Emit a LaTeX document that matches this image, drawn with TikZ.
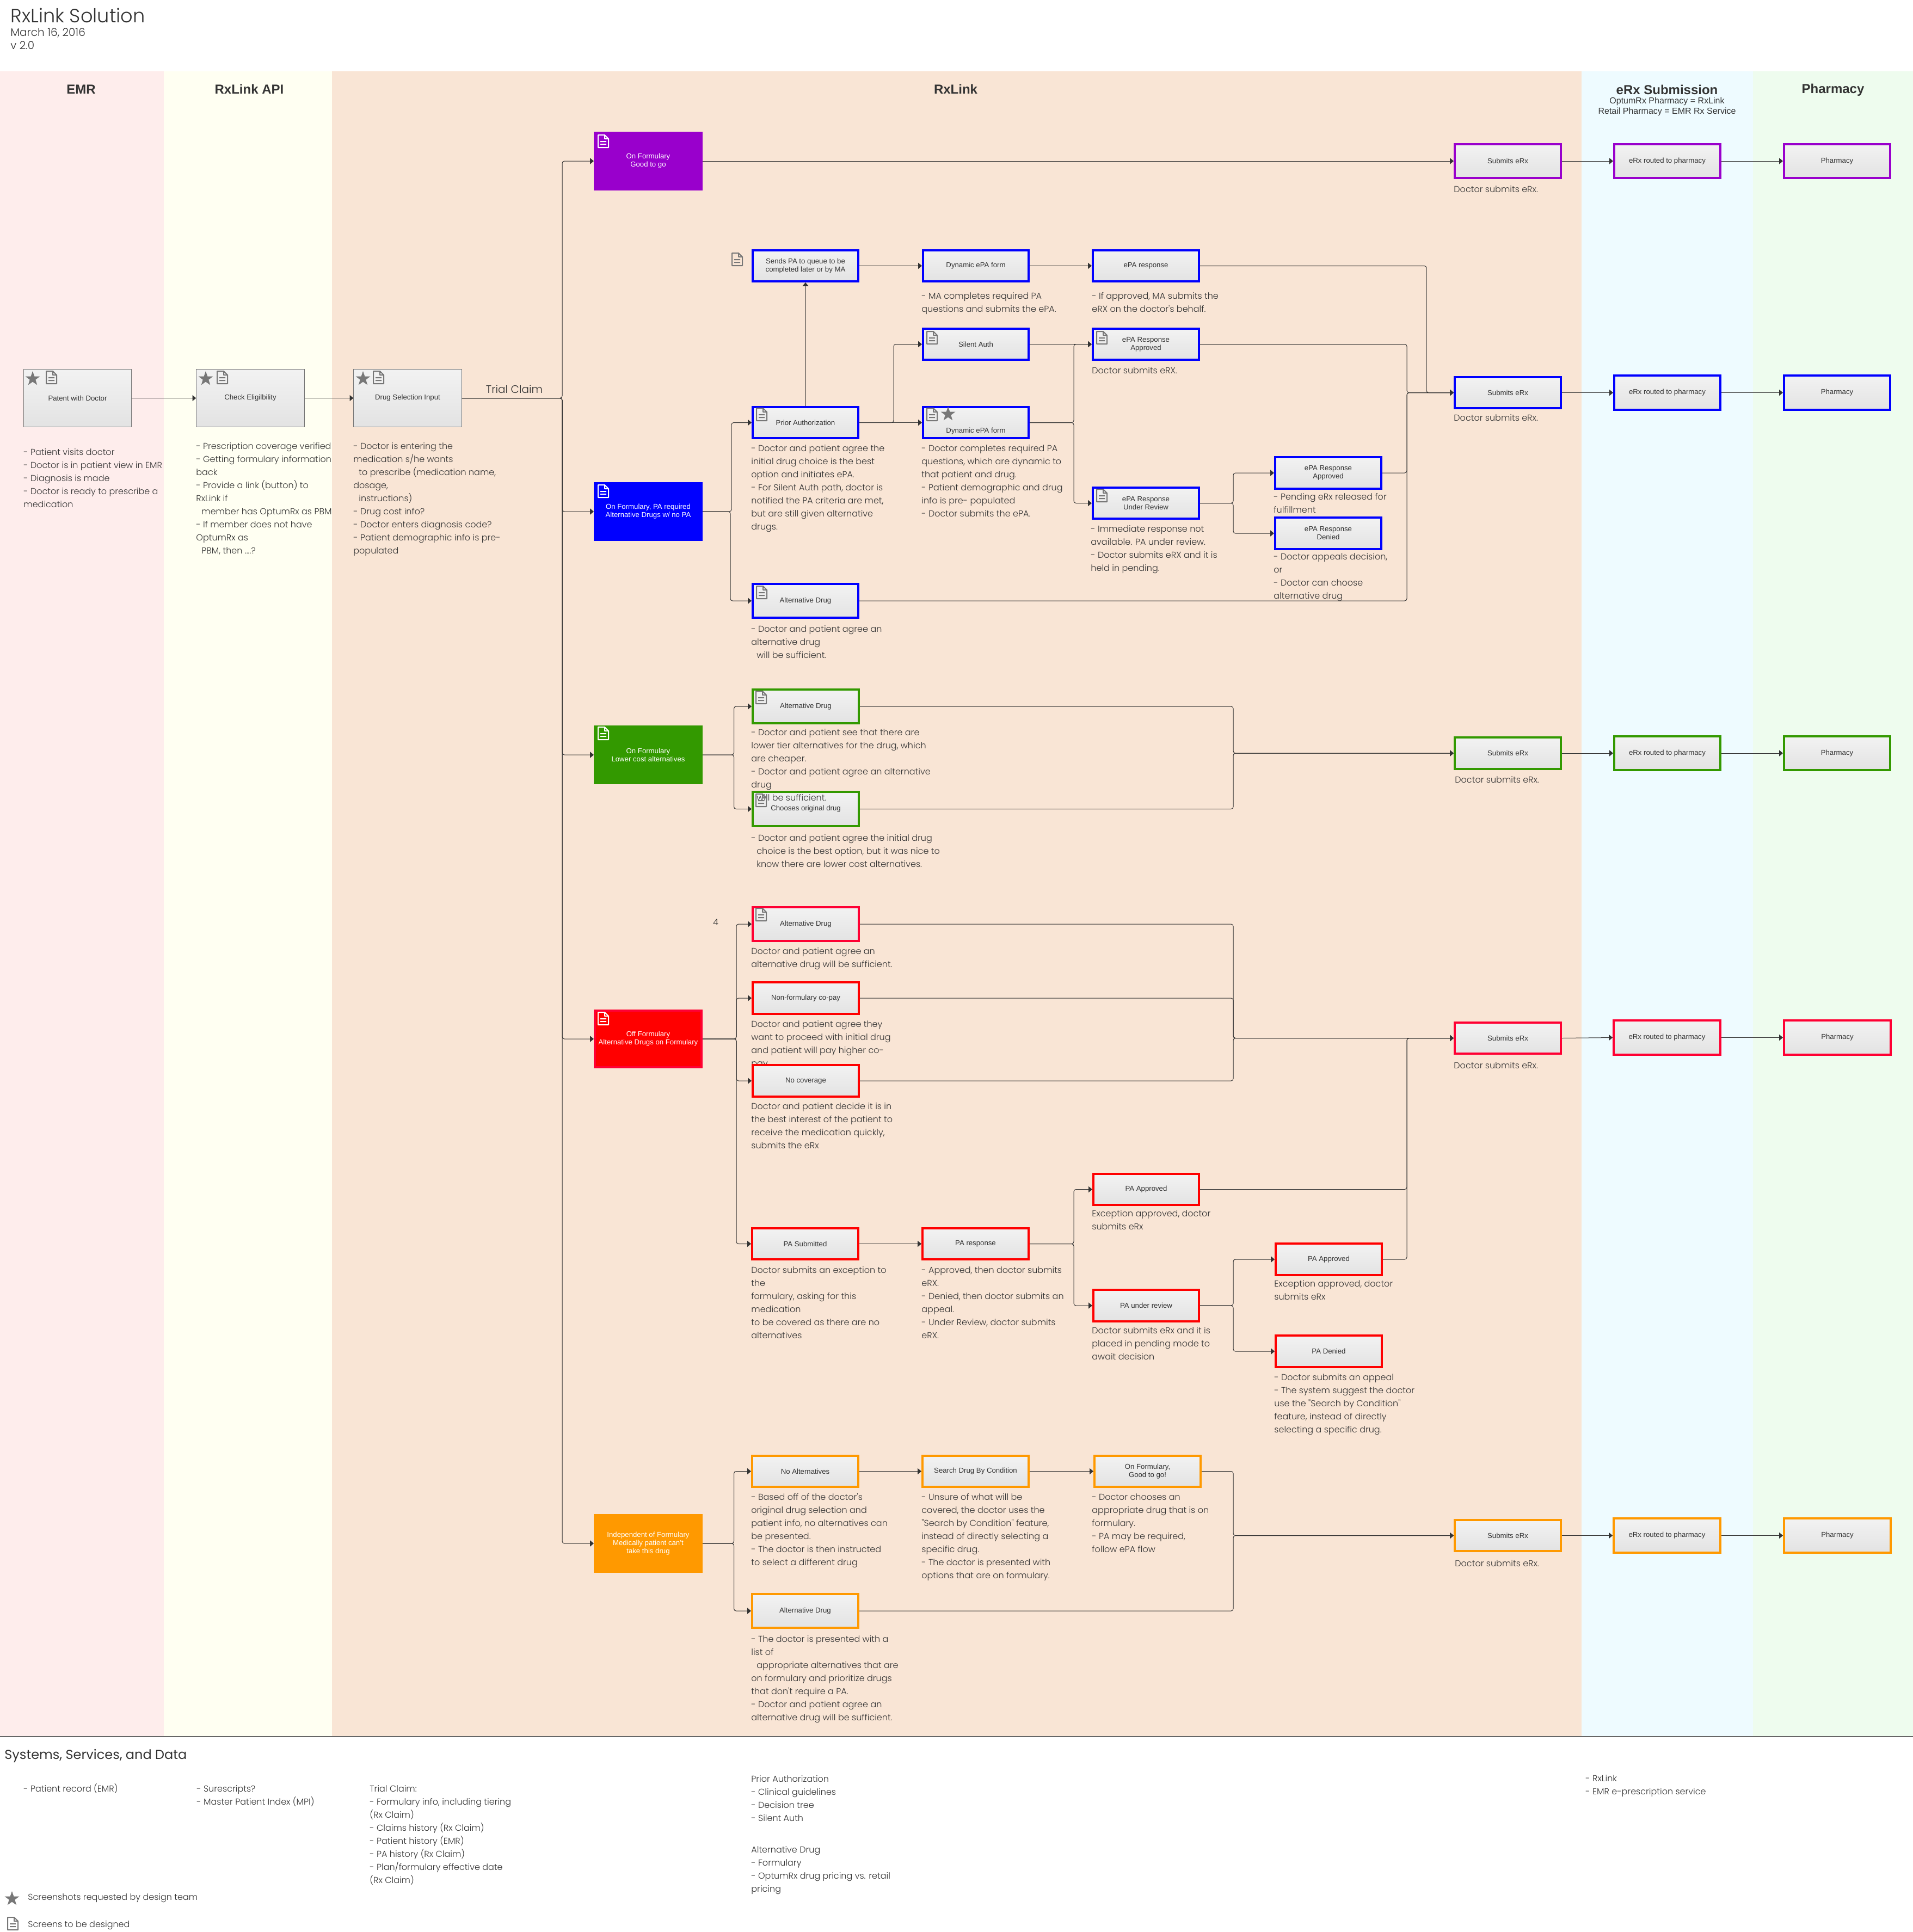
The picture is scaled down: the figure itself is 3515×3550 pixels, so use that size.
\documentclass[tikz,border=0pt]{standalone}
\usepackage{fontspec}
\setmainfont{Liberation Sans}
\newfontfamily\gt{Poppins}
\newfontfamily\gtl{Poppins Light}
\usetikzlibrary{arrows.meta}
\definecolor{bandA}{HTML}{FEEDEC}
\definecolor{bandB}{HTML}{FFFFF2}
\definecolor{bandC}{HTML}{F9E5D5}
\definecolor{bandD}{HTML}{EEFBFF}
\definecolor{bandE}{HTML}{EEFCEE}
\definecolor{cPur}{HTML}{9900CC}
\definecolor{cBlu}{HTML}{0000FF}
\definecolor{cGrn}{HTML}{339900}
\definecolor{cRed}{HTML}{FF0000}
\definecolor{cCrm}{HTML}{FF0033}
\definecolor{cOrg}{HTML}{FF9900}
\definecolor{cGry}{HTML}{777777}
\definecolor{txt}{HTML}{333333}
\definecolor{lnk}{HTML}{333333}
\tikzset{
  lbl/.style={font=\fontsize{6.6}{7.5}\selectfont,align=center,inner sep=0pt,text=lnk},
  cbox/.style={lbl,draw=#1,line width=1.8pt,top color=black!5,bottom color=black!11},
  pbox/.style={lbl,draw=cGry,line width=.5pt,top color=black!5,bottom color=black!11},
  sbox/.style={lbl,draw=#1,fill=#1,line width=1.8pt,text=white},
  sboxr/.style={lbl,draw=cCrm,fill=cRed,line width=1.8pt,text=white},
  notesty/.style={font=\gtl\fontsize{8}{12}\selectfont,anchor=north west,inner sep=0pt,align=left,text=txt},
  head/.style={font=\bfseries\fontsize{12}{14}\selectfont,inner sep=0pt,text=lnk},
  conn/.style={draw=lnk,line width=.5pt,rounded corners=2pt},
  arr/.style={conn,-{Triangle[length=3.4pt,width=5.5pt]}}
}
\newcommand\ind{\hspace*{5pt}}
\newcommand\rxnote[4]{\node[notesty] (#1) at (#2,#3-11.8) {\strut #4};}
\newcommand\rxbox[7][pbox]{\node[#1,minimum width={(#5-#3-3.6)*0.5pt},minimum height={(#6-#4-3.6)*0.5pt}] (#2) at ({(#3+#5)/2},{(#4+#6)/2}) {#7};}
\newcommand\rxdoc[3]{\begin{scope}[shift={(#1,#2)}]
 \draw[#3,line width=1pt,line join=round] (0,0)--(12,0)--(19,7)--(19,23)--(0,23)--cycle (12,0)--(12,7)--(19,7) (4,12)--(15,12) (4,17)--(15,17);
 \end{scope}}
\newcommand\rxstar[2]{\begin{scope}[shift={(#1,#2)}]
 \fill[cGry] (0,-14)--(3.3,-4.5)--(13.3,-4.3)--(5.3,1.7)--(8.2,11.3)--(0,5.6)--(-8.2,11.3)--(-5.3,1.7)--(-13.3,-4.3)--(-3.3,-4.5)--cycle;
 \end{scope}}
\begin{document}
\begin{tikzpicture}[x=0.5pt,y=-0.5pt]
\useasboundingbox (0,0) rectangle (3515,3550);
% bands
\fill[bandA] (0,131) rectangle (301,3191);
\fill[bandB] (301,131) rectangle (610,3191);
\fill[bandC] (610,131) rectangle (2906,3191);
\fill[bandD] (2906,131) rectangle (3221,3191);
\fill[bandE] (3221,131) rectangle (3515,3191);
\draw[draw=black!60,line width=1pt] (0,3191) -- (3515,3191);
% titles
\node[font=\gtl\fontsize{17.6}{18}\selectfont,anchor=west,inner sep=0pt,text=lnk] (title) at (19,28) {RxLink Solution};
\node[font=\gtl\fontsize{10}{12}\selectfont,anchor=north west,inner sep=0pt,text=lnk,align=left] (subt) at (19,49) {\strut March 16, 2016\\v 2.0};
\node[head] (hA) at (149,164) {EMR};
\node[head] (hB) at (458,164) {RxLink API};
\node[head] (hC) at (1756,164) {RxLink};
\node[head] (hD) at (3063,165) {eRx Submission};
\node[head] (hE) at (3368,165) {Pharmacy};
\node[font=\fontsize{8}{9.2}\selectfont,align=center,inner sep=0pt,text=lnk] (hDs) at (3063,196) {OptumRx Pharmacy = RxLink\\Retail Pharmacy = EMR Rx Service};
\node[font=\gtl\fontsize{10}{12}\selectfont,inner sep=0pt,text=txt] (tc) at (945,715) {Trial Claim};
\node[font=\gtl\fontsize{8}{10}\selectfont,inner sep=0pt,text=txt] (four) at (1315,1695) {4};
% notes
\rxnote{n1}{43}{831}{- Patient visits doctor\\- Doctor is in patient view in EMR\\- Diagnosis is made\\- Doctor is ready to prescribe a\\medication}
\rxnote{n2}{360}{820}{- Prescription coverage verified\\- Getting formulary information\\back\\- Provide a link (button) to\\RxLink if\\\ind member has OptumRx as PBM\\- If member does not have\\OptumRx as\\\ind PBM, then ....?}
\rxnote{n3}{649}{820}{- Doctor is entering the\\medication s/he wants\\\ind to prescribe (medication name,\\dosage,\\\ind instructions)\\- Drug cost info?\\- Doctor enters diagnosis code?\\- Patient demographic info is pre-\\populated}
\rxnote{n4}{1693}{544}{- MA completes required PA\\questions and submits the ePA.}
\rxnote{n5}{2006}{544}{- If approved, MA submits the\\eRX on the doctor's behalf.}
\rxnote{n6}{2006}{681}{Doctor submits eRX.}
\rxnote{n7}{1380}{824}{- Doctor and patient agree the\\initial drug choice is the best\\option and initiates ePA.\\- For Silent Auth path, doctor is\\notified the PA criteria are met,\\but are still given alternative\\drugs.}
\rxnote{n8}{1693}{824}{- Doctor completes required PA\\questions, which are dynamic to\\that patient and drug.\\- Patient demographic and drug\\info is pre- populated\\- Doctor submits the ePA.}
\rxnote{n9}{2004}{972}{- Immediate response not\\available. PA under review.\\- Doctor submits eRX and it is\\held in pending.}
\rxnote{n10}{2340}{913}{- Pending eRx released for\\fulfillment}
\rxnote{n11}{2340}{1023}{- Doctor appeals decision,\\or\\- Doctor can choose\\alternative drug}
\rxnote{n12}{1380}{1156}{- Doctor and patient agree an\\alternative drug\\\ind will be sufficient.}
\rxnote{n13}{2671}{348}{Doctor submits eRx.}
\rxnote{n14}{2671}{768}{Doctor submits eRx.}
\rxnote{n16}{1380}{1540}{- Doctor and patient agree the initial drug\\\ind choice is the best option, but it was nice to\\\ind know there are lower cost alternatives.}
\rxnote{n17}{2673}{1433}{Doctor submits eRx.}
\rxnote{n18}{1380}{1748}{Doctor and patient agree an\\alternative drug will be sufficient.}
\rxnote{n19}{1380}{1882}{Doctor and patient agree they\\want to proceed with initial drug\\and patient will pay higher co-\\pay.}
\rxnote{n20}{1380}{2033}{Doctor and patient decide it is in\\the best interest of the patient to\\receive the medication quickly,\\submits the eRx}
\rxnote{n21}{2671}{1958}{Doctor submits eRx.}
\rxnote{n22}{1380}{2334}{Doctor submits an exception to\\the\\formulary, asking for this\\medication\\to be covered as there are no\\alternatives}
\rxnote{n23}{1693}{2334}{- Approved, then doctor submits\\eRX.\\- Denied, then doctor submits an\\appeal.\\- Under Review, doctor submits\\eRX.}
\rxnote{n24}{2006}{2230}{Exception approved, doctor\\submits eRx}
\rxnote{n25}{2006}{2445}{Doctor submits eRx and it is\\placed in pending mode to\\await decision}
\rxnote{n26}{2341}{2359}{Exception approved, doctor\\submits eRx}
\rxnote{n27}{2341}{2531}{- Doctor submits an appeal\\- The system suggest the doctor\\use the  "Search by Condition"\\feature, instead of directly\\selecting a specific drug.}
\rxnote{n28}{1380}{2751}{- Based off of the doctor's\\original drug selection and\\patient info, no alternatives can\\be presented.\\- The doctor is then instructed\\to select a different drug}
\rxnote{n29}{1693}{2751}{- Unsure of what will be\\covered, the doctor uses the\\"Search by Condition" feature,\\instead of directly selecting a\\specific  drug.\\- The doctor is presented with\\options that are on formulary.}
\rxnote{n30}{2006}{2751}{- Doctor chooses an\\appropriate drug that is on\\formulary.\\- PA may be required,\\follow ePA flow}
\rxnote{n31}{2673}{2873}{Doctor submits eRx.}
\rxnote{n32}{1380}{3012}{- The doctor is presented with a\\list of\\\ind appropriate alternatives that are\\on formulary and prioritize drugs\\that don't require a PA.\\- Doctor and patient agree an\\alternative drug will be sufficient.}
% footer
\node[font=\gt\fontsize{12}{14}\selectfont,anchor=west,inner sep=0pt,text=lnk] (sys) at (8,3226) {Systems, Services, and Data};
\rxnote{f1}{43}{3287}{- Patient record (EMR)}
\rxnote{f2}{361}{3287}{- Surescripts?\\- Master Patient Index (MPI)}
\rxnote{f3}{679}{3287}{Trial Claim:\\- Formulary info, including tiering\\(Rx Claim)\\- Claims history (Rx Claim)\\- Patient history (EMR)\\- PA history (Rx Claim)\\- Plan/formulary effective date\\(Rx Claim)}
\rxnote{f4}{1380}{3269}{Prior Authorization\\- Clinical guidelines\\- Decision tree\\- Silent Auth}
\rxnote{f5}{1380}{3399}{Alternative Drug\\- Formulary\\- OptumRx drug pricing vs. retail\\pricing}
\rxnote{f6}{2913}{3268}{- RxLink\\- EMR e-prescription service}
\rxnote{f7}{51}{3486}{Screenshots requested by design team}
\rxnote{f8}{51}{3536}{Screens to be designed}
% grey boxes
\rxbox{pat}{42}{677}{243}{786}{Patent with Doctor}
\rxbox{chk}{359}{677}{561}{786}{Check Eligilbility}
\rxbox{dsi}{648}{677}{850}{786}{Drug Selection Input}
% purple row
\rxbox[sbox=cPur]{bPur}{1091}{242}{1291}{350}{On Formulary\\Good to go}
\rxbox[cbox=cPur]{sPur}{2671}{263}{2870}{329}{Submits eRx}
\rxbox[cbox=cPur]{rPur}{2964}{263}{3163}{329}{eRx routed to pharmacy}
\rxbox[cbox=cPur]{pPur}{3276}{263}{3475}{329}{Pharmacy}
% blue group
\rxbox[sbox=cBlu]{bBlu}{1091}{886}{1291}{994}{On Formulary, PA required\\Alternative Drugs w/ no PA}
\rxbox[cbox=cBlu]{sends}{1381}{458}{1579}{519}{Sends PA to queue to be\\completed later or by MA}
\rxbox[cbox=cBlu]{dyn}{1694}{458}{1892}{519}{Dynamic ePA form}
\rxbox[cbox=cBlu]{eresp}{2006}{458}{2205}{519}{ePA response}
\rxbox[cbox=cBlu]{silent}{1694}{602}{1892}{663}{Silent Auth}
\rxbox[cbox=cBlu]{eappA}{2006}{602}{2205}{663}{ePA Response\\Approved}
\rxbox[cbox=cBlu]{prior}{1381}{746}{1579}{807}{Prior Authorization}
\rxbox[cbox=cBlu]{dynB}{1694}{746}{1892}{807}{\mbox{}\\[12.5pt]Dynamic ePA form}
\rxbox[cbox=cBlu]{eur}{2006}{894}{2205}{955}{ePA Response\\Under Review}
\rxbox[cbox=cBlu]{eappB}{2341}{838}{2540}{900}{ePA Response\\Approved}
\rxbox[cbox=cBlu]{eden}{2341}{949}{2540}{1011}{ePA Response\\Denied}
\rxbox[cbox=cBlu]{altB}{1381}{1071}{1579}{1137}{Alternative Drug}
\rxbox[cbox=cBlu]{sBlu}{2671}{691}{2870}{752}{Submits eRx}
\rxbox[cbox=cBlu]{rBlu}{2964}{688}{3163}{755}{eRx routed to pharmacy}
\rxbox[cbox=cBlu]{pBlu}{3276}{688}{3475}{755}{Pharmacy}
% green group
\rxbox[sbox=cGrn]{bGrn}{1091}{1333}{1291}{1441}{On Formulary\\Lower cost alternatives}
\rxbox[cbox=cGrn]{altG}{1381}{1265}{1580}{1331}{Alternative Drug}
\rxbox[cbox=cGrn]{chs}{1381}{1453}{1580}{1520}{Chooses original drug}
\rxbox[cbox=cGrn]{sGrn}{2671}{1353}{2870}{1415}{Submits eRx}
\rxbox[cbox=cGrn]{rGrn}{2964}{1351}{3163}{1417}{eRx routed to pharmacy}
\rxbox[cbox=cGrn]{pGrn}{3276}{1351}{3475}{1417}{Pharmacy}
% red group
\rxbox[sboxr]{bRed}{1091}{1855}{1291}{1963}{Off Formulary\\Alternative Drugs on Formulary}
\rxbox[cbox=cCrm]{altR}{1381}{1665}{1580}{1731}{Alternative Drug}
\rxbox[cbox=cRed]{nonf}{1381}{1803}{1580}{1865}{Non-formulary co-pay}
\rxbox[cbox=cRed]{nocov}{1381}{1955}{1580}{2017}{No coverage}
\rxbox[cbox=cRed]{pasub}{1380}{2255}{1579}{2316}{PA Submitted}
\rxbox[cbox=cRed]{pares}{1693}{2255}{1892}{2316}{PA response}
\rxbox[cbox=cRed]{paappA}{2007}{2155}{2205}{2216}{PA Approved}
\rxbox[cbox=cRed]{paur}{2007}{2368}{2205}{2430}{PA under review}
\rxbox[cbox=cRed]{paappB}{2342}{2283}{2541}{2345}{PA Approved}
\rxbox[cbox=cRed]{paden}{2342}{2452}{2541}{2514}{PA Denied}
\rxbox[cbox=cCrm]{sRed}{2671}{1877}{2870}{1938}{Submits eRx}
\rxbox[cbox=cCrm]{rRed}{2963}{1873}{3163}{1940}{eRx routed to pharmacy}
\rxbox[cbox=cCrm]{pRed}{3276}{1873}{3476}{1940}{Pharmacy}
% orange group
\rxbox[sbox=cOrg]{bOrg}{1091}{2782}{1291}{2890}{Independent of Formulary\\Medically patient can't\\take this drug}
\rxbox[cbox=cOrg]{noalt}{1380}{2673}{1579}{2734}{No Alternatives}
\rxbox[cbox=cOrg]{srch}{1693}{2673}{1892}{2734}{Search Drug By Condition}
\rxbox[cbox=cOrg]{onf}{2009}{2673}{2208}{2734}{On Formulary,\\Good to go!}
\rxbox[cbox=cOrg]{altO}{1380}{2927}{1579}{2993}{Alternative Drug}
\rxbox[cbox=cOrg]{sOrg}{2671}{2791}{2870}{2852}{Submits eRx}
\rxbox[cbox=cOrg]{rOrg}{2963}{2788}{3163}{2855}{eRx routed to pharmacy}
\rxbox[cbox=cOrg]{pOrg}{3276}{2788}{3476}{2855}{Pharmacy}
% this note runs over the box below it
\rxnote{n15}{1380}{1346}{- Doctor and patient see that there are\\lower tier alternatives for the drug, which\\are cheaper.\\- Doctor and patient agree an alternative\\drug\\\ind will be sufficient.}
% junction coordinates
\coordinate (jT) at (1033,731.5);
\coordinate (jB1) at (1344,940);
\coordinate (jB2) at (1342,940);
\coordinate (jP) at (1642,776.5);
\coordinate (jD) at (1973,776.5);
\coordinate (jU) at (2266,924.5);
\coordinate (jE) at (2621,721.5);
\coordinate (jA) at (2585,721.5);
\coordinate (jG1) at (1348.5,1387);
\coordinate (jG2) at (2266,1384);
\coordinate (jR1) at (1353,1909);
\coordinate (jR2) at (2266,1907.5);
\coordinate (jR3) at (2585,1907.5);
\coordinate (jR4) at (1973,2285.5);
\coordinate (jR5) at (2266,2399);
\coordinate (jO1) at (1348.5,2836);
\coordinate (jO2) at (2266,2821.5);
% connectors
\draw[arr] (pat.east) -- (chk.west);
\draw[arr] (chk.east) -- (dsi.west);
\foreach \t in {bPur,bBlu,bGrn,bRed,bOrg} {\draw[arr] (dsi.east) -- (jT) |- (\t.west);}
\draw[arr] (bPur.east) -- (sPur.west);
\draw[arr] (sPur.east) -- (rPur.west);
\draw[arr] (rPur.east) -- (pPur.west);
\draw[arr] (bBlu.east) -- (jB1) |- (prior.west);
\draw[arr] (bBlu.east) -- (jB2) |- (altB.west);
\draw[arr] (prior.north) -- (sends.south);
\draw[arr] (sends.east) -- (dyn.west);
\draw[arr] (dyn.east) -- (eresp.west);
\draw[arr] (prior.east) -- (dynB.west);
\draw[arr] (prior.east) -- (jP) |- (silent.west);
\draw[arr] (silent.east) -- (eappA.west);
\draw[arr] (dynB.east) -- (jD) |- (eappA.west);
\draw[arr] (dynB.east) -- (jD) |- (eur.west);
\draw[arr] (eur.east) -- (jU) |- (eappB.west);
\draw[arr] (eur.east) -- (jU) |- (eden.west);
\draw[arr] (eresp.east) -| (jE) -- (sBlu.west);
\draw[arr] (eappA.east) -| (jA) -- (sBlu.west);
\draw[arr] (eappB.east) -| (jA) -- (sBlu.west);
\draw[arr] (altB.east) -| (jA) -- (sBlu.west);
\draw[arr] (sBlu.east) -- (rBlu.west);
\draw[arr] (rBlu.east) -- (pBlu.west);
\draw[arr] (bGrn.east) -- (jG1) |- (altG.west);
\draw[arr] (bGrn.east) -- (jG1) |- (chs.west);
\draw[arr] (altG.east) -| (jG2) -- (sGrn.west);
\draw[arr] (chs.east) -| (jG2) -- (sGrn.west);
\draw[arr] (sGrn.east) -- (rGrn.west);
\draw[arr] (rGrn.east) -- (pGrn.west);
\foreach \t in {altR,nonf,nocov,pasub} {\draw[arr] (bRed.east) -- (jR1) |- (\t.west);}
\foreach \t in {altR,nonf,nocov} {\draw[arr] (\t.east) -| (jR2) -- (sRed.west);}
\draw[arr] (pasub.east) -- (pares.west);
\draw[arr] (pares.east) -- (jR4) |- (paappA.west);
\draw[arr] (pares.east) -- (jR4) |- (paur.west);
\draw[arr] (paur.east) -- (jR5) |- (paappB.west);
\draw[arr] (paur.east) -- (jR5) |- (paden.west);
\draw[arr] (paappA.east) -| (jR3) -- (sRed.west);
\draw[arr] (paappB.east) -| (jR3) -- (sRed.west);
\draw[arr] (sRed.east) -- (rRed.west);
\draw[arr] (rRed.east) -- (pRed.west);
\draw[arr] (bOrg.east) -- (jO1) |- (noalt.west);
\draw[arr] (bOrg.east) -- (jO1) |- (altO.west);
\draw[arr] (noalt.east) -- (srch.west);
\draw[arr] (srch.east) -- (onf.west);
\draw[arr] (onf.east) -| (jO2) -- (sOrg.west);
\draw[arr] (altO.east) -| (jO2) -- (sOrg.west);
\draw[arr] (sOrg.east) -- (rOrg.west);
\draw[arr] (rOrg.east) -- (pOrg.west);
% icons
\rxstar{60}{696}\rxdoc{85}{682}{cGry}
\rxstar{378}{696}\rxdoc{399}{682}{cGry}
\rxstar{667}{696}\rxdoc{686}{682}{cGry}
\rxdoc{1099}{248}{white}
\rxdoc{1099}{891}{white}
\rxdoc{1099}{1336}{white}
\rxdoc{1099}{1860}{white}
\rxdoc{1345}{465}{cGry}
\rxdoc{1390}{750}{cGry}
\rxdoc{1703}{609}{cGry}
\rxdoc{1703}{750}{cGry}\rxstar{1742}{761}
\rxdoc{2015}{609}{cGry}
\rxdoc{2015}{899}{cGry}
\rxdoc{1390}{1077}{cGry}
\rxdoc{1389}{1270}{cGry}
\rxdoc{1389}{1459}{cGry}
\rxdoc{1389}{1669}{cGry}
\rxstar{22}{3489}
\rxdoc{14}{3523}{cGry}
\end{tikzpicture}
\end{document}
